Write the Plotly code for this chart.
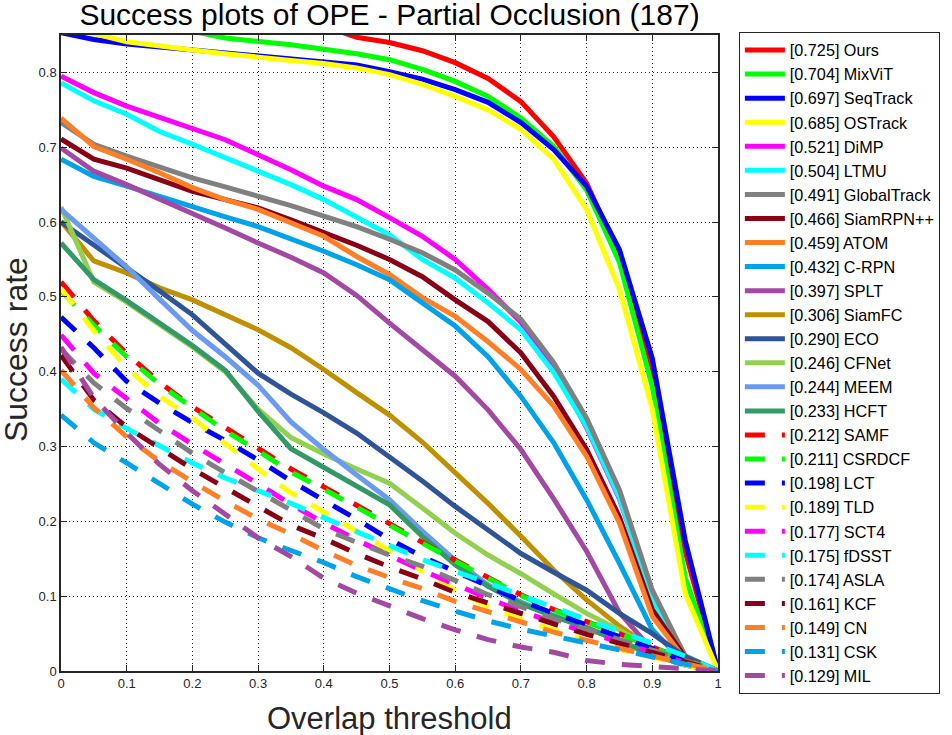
import plotly.graph_objects as go

# overlap thresholds (x axis of the success plot)
thresholds = [0.0, 0.05, 0.1, 0.15, 0.2, 0.25, 0.3, 0.35, 0.4, 0.45, 0.5,
              0.55, 0.6, 0.65, 0.7, 0.75, 0.8, 0.85, 0.9, 0.95, 1.0]

names = ["Ours", "MixViT", "SeqTrack", "OSTrack", "DiMP", "LTMU", "GlobalTrack",
         "SiamRPN++", "ATOM", "C-RPN", "SPLT", "SiamFC", "ECO", "CFNet", "MEEM",
         "HCFT", "SAMF", "CSRDCF", "LCT", "TLD", "SCT4", "fDSST", "ASLA", "KCF",
         "CN", "CSK", "MIL"]
auc = [0.725, 0.704, 0.697, 0.685, 0.521, 0.504, 0.491, 0.466, 0.459, 0.432,
       0.397, 0.306, 0.290, 0.246, 0.244, 0.233, 0.212, 0.211, 0.198, 0.189,
       0.177, 0.175, 0.174, 0.161, 0.149, 0.131, 0.129]

# success rate per threshold
ours = [0.925, 0.918, 0.912, 0.906, 0.90, 0.893, 0.885, 0.875, 0.862, 0.847, 0.84,
        0.829, 0.813, 0.792, 0.761, 0.714, 0.652, 0.556, 0.405, 0.16, 0.0]
mixvit = [0.872, 0.868, 0.864, 0.86, 0.855, 0.846, 0.842, 0.837, 0.831, 0.825, 0.817,
          0.804, 0.788, 0.768, 0.739, 0.701, 0.643, 0.546, 0.38, 0.125, 0.0]
seqtrack = [0.853, 0.844, 0.838, 0.834, 0.831, 0.826, 0.822, 0.819, 0.815, 0.81, 0.801,
            0.791, 0.777, 0.76, 0.733, 0.697, 0.648, 0.563, 0.418, 0.175, 0.0]
ostrack = [0.86, 0.852, 0.841, 0.835, 0.83, 0.825, 0.82, 0.816, 0.812, 0.806, 0.797,
           0.784, 0.768, 0.75, 0.724, 0.684, 0.617, 0.51, 0.35, 0.104, 0.0]
dimp = [0.795, 0.773, 0.755, 0.74, 0.726, 0.71, 0.69, 0.67, 0.648, 0.63, 0.606,
        0.581, 0.55, 0.51, 0.466, 0.407, 0.325, 0.23, 0.10, 0.02, 0.0]
ltmu = [0.786, 0.762, 0.744, 0.721, 0.704, 0.686, 0.668, 0.65, 0.63, 0.606, 0.583,
        0.55, 0.525, 0.492, 0.456, 0.399, 0.327, 0.232, 0.095, 0.02, 0.0]
globaltrack = [0.733, 0.704, 0.688, 0.673, 0.659, 0.647, 0.635, 0.622, 0.608, 0.594, 0.577,
               0.559, 0.536, 0.505, 0.47, 0.412, 0.338, 0.242, 0.108, 0.02, 0.0]
siamrpnpp = [0.711, 0.684, 0.672, 0.656, 0.641, 0.63, 0.619, 0.603, 0.586, 0.569, 0.55,
             0.527, 0.496, 0.467, 0.425, 0.367, 0.296, 0.206, 0.082, 0.018, 0.0]
atom = [0.739, 0.701, 0.684, 0.666, 0.646, 0.63, 0.617, 0.599, 0.581, 0.554, 0.53,
        0.499, 0.474, 0.44, 0.403, 0.354, 0.287, 0.198, 0.073, 0.015, 0.0]
crpn = [0.684, 0.661, 0.648, 0.634, 0.621, 0.607, 0.594, 0.578, 0.561, 0.543, 0.523,
        0.492, 0.461, 0.42, 0.367, 0.305, 0.229, 0.144, 0.055, 0.01, 0.0]
splt = [0.699, 0.668, 0.65, 0.631, 0.612, 0.592, 0.572, 0.553, 0.532, 0.502, 0.465,
        0.429, 0.394, 0.349, 0.296, 0.23, 0.16, 0.078, 0.028, 0.008, 0.0]
siamfc = [0.601, 0.548, 0.532, 0.512, 0.496, 0.476, 0.456, 0.432, 0.403, 0.372, 0.342,
          0.306, 0.266, 0.224, 0.18, 0.135, 0.095, 0.06, 0.03, 0.01, 0.0]
eco = [0.60, 0.57, 0.54, 0.508, 0.476, 0.437, 0.398, 0.37, 0.345, 0.318, 0.287,
       0.254, 0.22, 0.188, 0.157, 0.132, 0.108, 0.077, 0.05, 0.019, 0.0]
cfnet = [0.62, 0.52, 0.493, 0.463, 0.433, 0.40, 0.35, 0.312, 0.29, 0.27, 0.251,
         0.218, 0.184, 0.155, 0.13, 0.103, 0.077, 0.055, 0.03, 0.012, 0.0]
meem = [0.617, 0.578, 0.54, 0.497, 0.455, 0.42, 0.382, 0.333, 0.296, 0.262, 0.229,
        0.187, 0.148, 0.115, 0.092, 0.074, 0.058, 0.04, 0.022, 0.008, 0.0]
hcft = [0.572, 0.523, 0.495, 0.465, 0.435, 0.402, 0.347, 0.297, 0.272, 0.246, 0.222,
        0.18, 0.142, 0.113, 0.09, 0.073, 0.058, 0.04, 0.022, 0.008, 0.0]
samf = [0.52, 0.468, 0.424, 0.386, 0.353, 0.325, 0.298, 0.27, 0.246, 0.222, 0.197,
        0.172, 0.148, 0.125, 0.102, 0.082, 0.066, 0.05, 0.032, 0.015, 0.0]
csrdcf = [0.508, 0.462, 0.42, 0.383, 0.352, 0.321, 0.294, 0.266, 0.243, 0.219, 0.195,
          0.17, 0.147, 0.124, 0.101, 0.081, 0.065, 0.05, 0.032, 0.015, 0.0]
lct = [0.473, 0.432, 0.387, 0.358, 0.332, 0.308, 0.282, 0.254, 0.228, 0.203, 0.176,
       0.153, 0.133, 0.114, 0.094, 0.077, 0.062, 0.046, 0.03, 0.013, 0.0]
tld = [0.511, 0.455, 0.405, 0.367, 0.338, 0.303, 0.27, 0.238, 0.212, 0.187, 0.161,
       0.133, 0.108, 0.086, 0.069, 0.055, 0.041, 0.029, 0.018, 0.008, 0.0]
sct4 = [0.449, 0.398, 0.364, 0.331, 0.303, 0.277, 0.25, 0.223, 0.198, 0.175, 0.154,
        0.134, 0.116, 0.097, 0.08, 0.065, 0.052, 0.039, 0.025, 0.011, 0.0]
fdsst = [0.39, 0.35, 0.324, 0.301, 0.278, 0.258, 0.241, 0.224, 0.205, 0.186, 0.167,
         0.149, 0.133, 0.118, 0.101, 0.085, 0.069, 0.054, 0.037, 0.02, 0.0]
asla = [0.43, 0.385, 0.351, 0.32, 0.291, 0.265, 0.24, 0.216, 0.19, 0.172, 0.155,
        0.14, 0.121, 0.102, 0.086, 0.07, 0.056, 0.042, 0.028, 0.013, 0.0]
kcf = [0.422, 0.362, 0.326, 0.297, 0.27, 0.245, 0.22, 0.195, 0.177, 0.157, 0.139,
       0.123, 0.105, 0.091, 0.077, 0.063, 0.049, 0.037, 0.025, 0.012, 0.0]
cn = [0.402, 0.352, 0.313, 0.28, 0.253, 0.227, 0.203, 0.183, 0.161, 0.141, 0.125,
      0.11, 0.093, 0.079, 0.065, 0.052, 0.041, 0.03, 0.02, 0.01, 0.0]
csk = [0.342, 0.305, 0.278, 0.25, 0.223, 0.199, 0.178, 0.161, 0.145, 0.126, 0.11,
       0.094, 0.08, 0.067, 0.056, 0.047, 0.038, 0.029, 0.019, 0.009, 0.0]
mil = [0.433, 0.365, 0.318, 0.276, 0.241, 0.209, 0.178, 0.153, 0.124, 0.104, 0.087,
       0.07, 0.055, 0.042, 0.032, 0.025, 0.014, 0.009, 0.006, 0.003, 0.0]

series = [ours, mixvit, seqtrack, ostrack, dimp, ltmu, globaltrack, siamrpnpp, atom,
          crpn, splt, siamfc, eco, cfnet, meem, hcft, samf, csrdcf, lct, tld, sct4,
          fdsst, asla, kcf, cn, csk, mil]

xticks = [0, 0.1, 0.2, 0.3, 0.4, 0.5, 0.6, 0.7, 0.8, 0.9, 1]
xtick_labels = ["0", "0.1", "0.2", "0.3", "0.4", "0.5", "0.6", "0.7", "0.8", "0.9", "1"]
yticks = [0, 0.1, 0.2, 0.3, 0.4, 0.5, 0.6, 0.7, 0.8]
ytick_labels = ["0", "0.1", "0.2", "0.3", "0.4", "0.5", "0.6", "0.7", "0.8"]

# colours like the OTB toolkit, first 16 solid, remaining 11 dashed
base_colors = ["#FF0000", "#00FF00", "#0000FF", "#FFFF00", "#FF00FF", "#00FFFF",
               "#808080", "#880015", "#FF7F27", "#00A2E8", "#A349A4"]
extra_colors = ["#BF9000", "#2F5597", "#92D050", "#6A9BF0", "#339966"]
colors = base_colors + extra_colors + base_colors
dashes = ["solid"] * 16 + ["20px,17px"] * 11

FONT = "Liberation Sans, Arial, sans-serif"
TXT = "#262626"

W, H = 952, 735
L, T, PW, PH = 61, 35, 661, 636

fig = go.Figure()
for i, vals in enumerate(series):
    fig.add_trace(go.Scatter(
        x=thresholds, y=vals, mode="lines",
        name=f"[{auc[i]:.3f}] {names[i]}",
        line=dict(color=colors[i], width=5, dash=dashes[i]),
    ))

axis_common = dict(
    showline=True, linecolor=TXT, linewidth=1.5, mirror="all",
    ticks="inside", ticklen=6, tickcolor=TXT, tickwidth=1,
    showgrid=True, gridcolor="rgba(0,0,0,0.85)", gridwidth=1, griddash="1px,3px",
    zeroline=False, tickfont=dict(family=FONT, size=13, color=TXT),
)

fig.update_xaxes(range=[0, 1], tickvals=xticks, ticktext=xtick_labels, **axis_common)
fig.update_yaxes(range=[0, 0.85], tickvals=yticks, ticktext=ytick_labels, **axis_common)

fig.update_layout(
    width=W, height=H,
    margin=dict(l=L, r=W - L - PW, t=T, b=H - T - PH),
    plot_bgcolor="white", paper_bgcolor="white",
    title=dict(text="Success plots of OPE - Partial Occlusion (187)",
               font=dict(family=FONT, size=30, color="black"),
               x=0.5, xref="paper", y=1 - 14 / H, yref="container", yanchor="middle"),
    legend=dict(x=682 / PW, xanchor="left", y=(PH + 3) / PH, yanchor="top",
                bordercolor=TXT, borderwidth=1, bgcolor="white",
                font=dict(family=FONT, size=16.2, color="black"),
                tracegroupgap=0, itemwidth=40, maxheight=700),
    showlegend=True,
    annotations=[
        dict(text="Overlap threshold", xref="paper", yref="paper", x=0.5, y=-47 / PH,
             xanchor="center", yanchor="middle", showarrow=False,
             font=dict(family=FONT, size=31, color=TXT)),
        dict(text="Success rate", xref="paper", yref="paper", x=-45 / PW, y=0.505,
             xanchor="center", yanchor="middle", showarrow=False, textangle=-90,
             font=dict(family=FONT, size=32, color=TXT)),
    ],
)

# drop the browser's default 8px body margin so the figure sits at the page corner
fig.write_html("out.html", config={"displayModeBar": False},
               post_script="document.body.style.margin = '0';")
